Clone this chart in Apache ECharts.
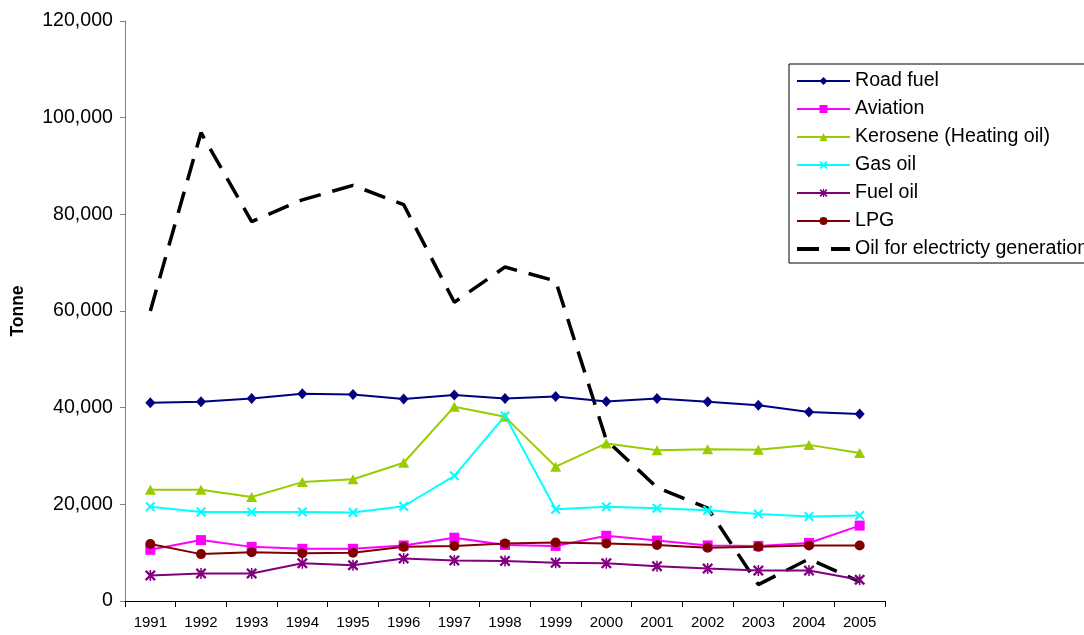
<!DOCTYPE html>
<html>
<head>
<meta charset="utf-8">
<script src="https://cdn.jsdelivr.net/npm/echarts@6/dist/echarts.min.js"></script>
<style>
  html, body { margin: 0; padding: 0; background: #fff; }
  #chart { width: 1084px; height: 635px; }
</style>
</head>
<body>
<div id="chart"></div>
<script>
// Oil consumption by product, tonnes per year
const years = ['1991','1992','1993','1994','1995','1996','1997','1998','1999','2000','2001','2002','2003','2004','2005'];

const roadFuel    = [41000, 41200, 41900, 42900, 42700, 41800, 42600, 41900, 42300, 41300, 41900, 41200, 40500, 39100, 38700];
const aviation    = [10600, 12600, 11200, 10800, 10800, 11500, 13100, 11600, 11400, 13500, 12500, 11500, 11400, 12000, 15600];
const kerosene    = [23000, 23000, 21500, 24600, 25200, 28600, 40200, 38100, 27800, 32600, 31200, 31400, 31300, 32300, 30600];
const gasOil      = [19500, 18400, 18400, 18400, 18300, 19600, 25900, 38300, 19000, 19500, 19200, 18800, 18000, 17500, 17700];
const fuelOil     = [5300, 5700, 5700, 7800, 7400, 8800, 8400, 8300, 7900, 7800, 7200, 6700, 6300, 6300, 4400];
const lpg         = [11800, 9700, 10100, 9900, 10000, 11200, 11400, 11900, 12100, 11900, 11600, 11000, 11200, 11500, 11500];
const electricity = [60000, 96900, 78500, 83000, 86000, 82000, 61800, 69100, 66200, 33300, 23500, 19200, 3400, 8700, 4000];

const yTicks = { min: 0, max: 120000, interval: 20000 };

// marker shapes
const crossPath = 'path://M0,1.5L1.5,0L5,3.5L8.5,0L10,1.5L6.5,5L10,8.5L8.5,10L5,6.5L1.5,10L0,8.5L3.5,5Z';
const starPath = 'path://M0,1.5L1.5,0L5,3.5L8.5,0L10,1.5L6.5,5L10,8.5L8.5,10L5,6.5L1.5,10L0,8.5L3.5,5Z M4.3,0L5.7,0L5.7,10L4.3,10Z';

function lineSeries(name, data, color, symbol, size) {
  return {
    name: name,
    type: 'line',
    data: data,
    symbol: symbol,
    symbolSize: size,
    showAllSymbol: true,
    lineStyle: { color: color, width: 2 },
    itemStyle: { color: color, borderWidth: 0 },
    emphasis: { disabled: true },
    animation: false,
    z: 3
  };
}

const chart = echarts.init(document.getElementById('chart'), null, { renderer: 'canvas' });

chart.setOption({
  backgroundColor: '#ffffff',
  animation: false,
  textStyle: { fontFamily: 'Liberation Sans, Arial, sans-serif' },
  grid: { left: 125, right: 199, top: 21, bottom: 34, containLabel: false },
  legend: {
    orient: 'vertical',
    left: 789,
    top: 64,
    padding: [7, 40, 4, 6],
    itemWidth: 53,
    itemHeight: 10,
    itemGap: 8,
    borderColor: '#000',
    borderWidth: 1,
    backgroundColor: '#fff',
    textStyle: { fontSize: 19.6, color: '#000', lineHeight: 20, fontFamily: 'Liberation Sans, Arial, sans-serif' },
    data: [
      'Road fuel', 'Aviation', 'Kerosene (Heating oil)', 'Gas oil', 'Fuel oil', 'LPG',
      {
        name: 'Oil for electricty generation',
        itemStyle: { opacity: 0 },
        lineStyle: { width: 4, color: '#000', type: [22, 12] }
      }
    ]
  },
  xAxis: {
    type: 'category',
    data: years,
    boundaryGap: true,
    axisLine: { lineStyle: { color: '#000', width: 1 } },
    axisTick: { show: true, alignWithLabel: false, length: 6, lineStyle: { color: '#000' } },
    axisLabel: { color: '#000', fontSize: 15, margin: 14 },
    splitLine: { show: false }
  },
  yAxis: {
    type: 'value',
    min: yTicks.min,
    max: yTicks.max,
    interval: yTicks.interval,
    name: 'Tonne',
    nameLocation: 'middle',
    nameGap: 98,
    nameTextStyle: { fontSize: 17.5, fontWeight: 'bold', color: '#000' },
    axisLine: { show: true, lineStyle: { color: '#808080', width: 1 } },
    axisTick: { show: true, length: 5, lineStyle: { color: '#808080' } },
    axisLabel: {
      color: '#000',
      fontSize: 19.6,
      margin: 12,
      formatter: function (v) { return v.toLocaleString('en-US'); }
    },
    splitLine: { show: false }
  },
  series: [
    lineSeries('Road fuel', roadFuel, '#000080', 'diamond', [10, 11]),
    lineSeries('Aviation', aviation, '#FF00FF', 'rect', 10),
    lineSeries('Kerosene (Heating oil)', kerosene, '#99CC00', 'triangle', [11, 10]),
    lineSeries('Gas oil', gasOil, '#00FFFF', crossPath, 10),
    lineSeries('Fuel oil', fuelOil, '#800080', starPath, 11),
    lineSeries('LPG', lpg, '#800000', 'circle', 10),
    {
      name: 'Oil for electricty generation',
      type: 'line',
      data: electricity,
      symbol: 'none',
      lineStyle: { color: '#000', width: 3.5, type: [22, 12] },
      itemStyle: { color: 'rgba(0,0,0,0)' },
      emphasis: { disabled: true },
      animation: false,
      z: 2
    }
  ]
});
</script>
</body>
</html>
